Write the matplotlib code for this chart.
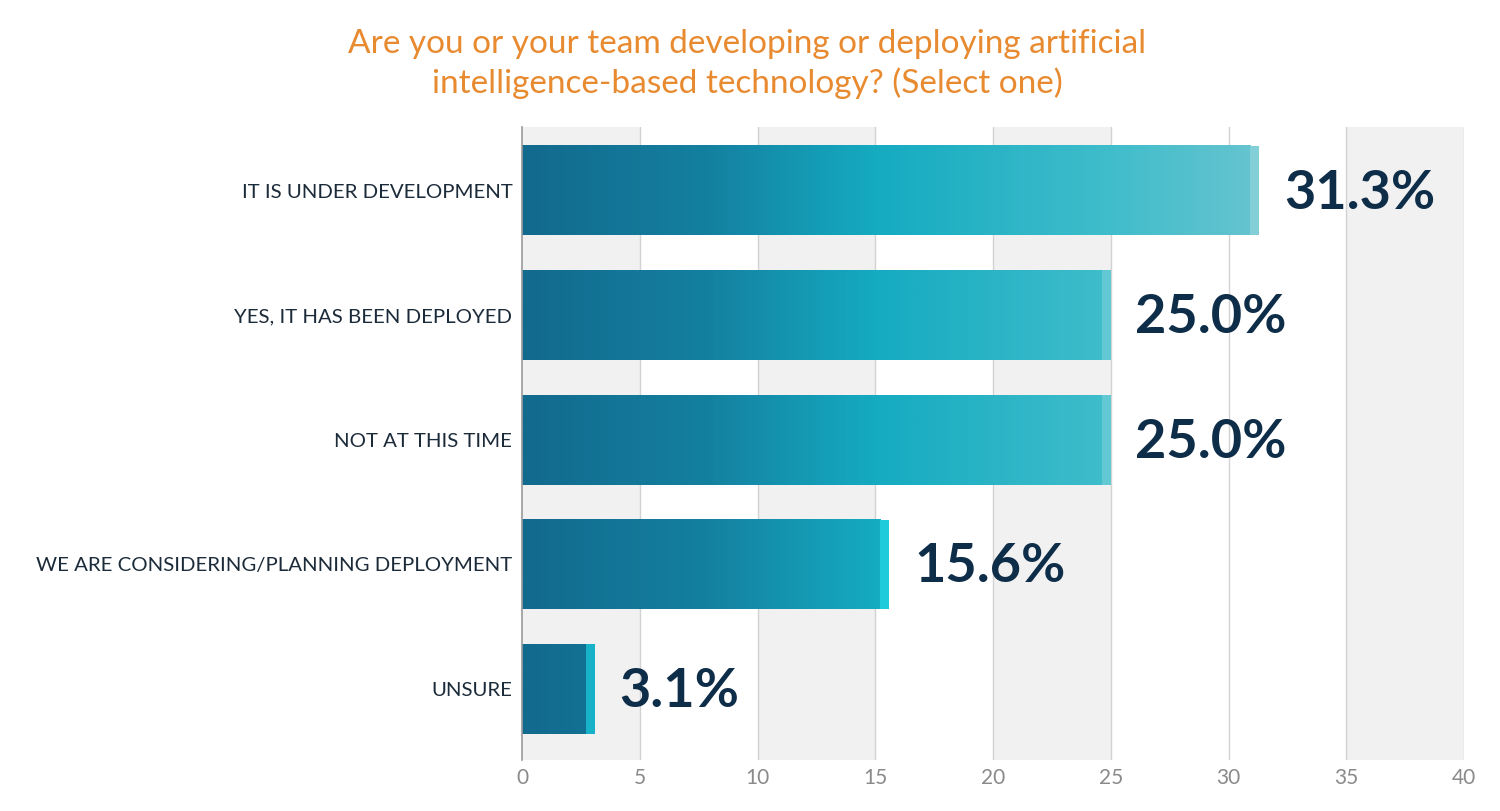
import numpy as np
import matplotlib.pyplot as plt
from matplotlib.colors import LinearSegmentedColormap, to_rgb

# data
categories = ["IT IS UNDER DEVELOPMENT", "YES, IT HAS BEEN DEPLOYED", "NOT AT THIS TIME",
              "WE ARE CONSIDERING/PLANNING DEPLOYMENT", "UNSURE"]
values = [31.3, 25.0, 25.0, 15.6, 3.1]
value_labels = ["31.3%", "25.0%", "25.0%", "15.6%", "3.1%"]
ticks = [0, 5, 10, 15, 20, 25, 30, 35, 40]
grey_bands = [(0, 5), (10, 15), (20, 25), (35, 40)]

plt.rcParams['font.family'] = ['Lato', 'DejaVu Sans']

# gradient along the x scale, shared by all bars
grad = LinearSegmentedColormap.from_list(
    "teal", [(0.0, "#126a8e"), (0.25, "#1480a0"), (0.48, "#15abc1"),
             (0.8, "#40bdcb"), (1.0, "#66c4cf")])
xmax_grad = 31.3

def lighten(c, f):
    r, g, b = to_rgb(c)
    return (r + (1 - r) * f, g + (1 - g) * f, b + (1 - b) * f)

fig = plt.figure(figsize=(15, 8.11), dpi=100)
ax = fig.add_axes([0.348, 0.0629, 0.628, 0.7805])

for a, b in grey_bands:
    ax.axvspan(a, b, color="#f1f1f1", zorder=0, lw=0)
for t in ticks[1:]:
    ax.axvline(t, color="#d2d2d2", lw=1, zorder=1)

h = 0.72
cap = 0.38
y = np.arange(len(categories))
for yi, v, lab in zip(y, values, value_labels):
    body = v - cap
    xs = np.linspace(0, body, 300)
    img = grad(xs / xmax_grad)[np.newaxis, :, :]
    ax.imshow(img, extent=[0, body, yi + h / 2, yi - h / 2], aspect='auto',
              interpolation='bilinear', zorder=2)
    end_col = grad(min(v / xmax_grad, 1.0))
    if v > 20:
        cap_col = lighten(end_col, 0.18)
    elif v > 10:
        cap_col = "#1ecbdb"
    else:
        cap_col = "#18b2c8"
    ax.barh(yi, cap, left=body, height=h, color=cap_col, lw=0, zorder=2)
    ax.text(v + 1.05, yi + 0.02, lab, va='center', ha='left', fontsize=39,
            fontweight='bold', color="#0e2d48", zorder=3)

ax.set_xlim(0, 40)
ax.set_ylim(4.57, -0.51)
ax.set_yticks(y)
ax.set_yticklabels(categories, fontsize=14.7, color="#1c2b3a")
for tl in ax.get_yticklabels():
    tl.set_y(tl.get_position()[1])
ax.set_xticks(ticks)
ax.set_xticklabels([str(t) for t in ticks], fontsize=15, color="#8a8a8a")
ax.tick_params(axis='both', length=0)
ax.tick_params(axis='y', pad=7)
ax.tick_params(axis='x', pad=6)
for s in ["top", "right", "bottom"]:
    ax.spines[s].set_visible(False)
ax.spines["left"].set_color("#9a9a9a")
ax.spines["left"].set_linewidth(1.2)
ax.spines["left"].set_zorder(4)

fig.text(0.498, 0.921, "Are you or your team developing or deploying artificial\nintelligence-based technology? (Select one)",
         ha='center', va='center', fontsize=24, color="#e88a30", linespacing=1.32)

fig.savefig("out.png", dpi=100)
